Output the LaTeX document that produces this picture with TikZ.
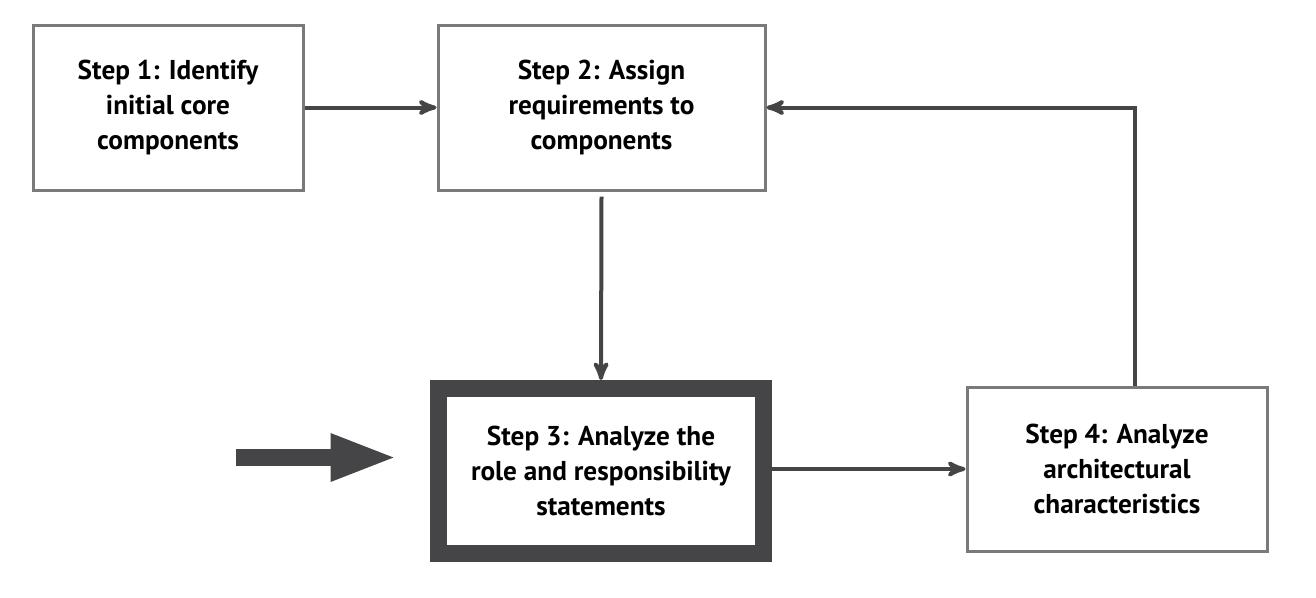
\documentclass[tikz,border=0pt]{standalone}
\usepackage{fontspec}
\setmainfont{PT Sans}
\usetikzlibrary{positioning,calc}
\usetikzlibrary{arrows,arrows.meta}

\definecolor{linegray}{HTML}{454547}
\definecolor{boxgray}{HTML}{7A7A7C}

\tikzset{
  stepbox/.style={draw=boxgray, line width=0.06cm, fill=white, align=center,
    font=\bfseries\fontsize{15.5}{19.8}\selectfont, inner sep=0pt},
  keybox/.style={stepbox, draw=linegray, line width=0.34cm},
  flow/.style={->, draw=linegray, line width=0.08cm},
}

\begin{document}
\begin{tikzpicture}[>=stealth', thick]
\useasboundingbox (0, 0) rectangle (26.32, -11.94);
\node [stepbox, minimum width=5.4cm, minimum height=3.3cm] (s1) at (3.36, -2.15)
  {Step 1: Identify\\initial core\\components};
\node [stepbox, minimum width=6.54cm, minimum height=3.3cm] (s2) at (12.03, -2.15)
  {Step 2: Assign\\requirements to\\components};
\node [keybox, minimum width=6.5cm, minimum height=3.3cm] (s3) at (12.02, -9.42)
  {Step 3: Analyze the\\role and responsibility\\statements};
\node [stepbox, minimum width=6.0cm, minimum height=3.28cm] (s4) at (22.34, -9.38)
  {Step 4: Analyze\\architectural\\characteristics};
% entry arrow
\coordinate (in) at (4.72, -9.15);
\coordinate (inend) at (7.96, -9.15);
\draw [-{Triangle[length=1.35cm, width=0.86cm]}, draw=linegray, fill=linegray, line width=0.34cm] (in) -- (inend);
% connectors
\draw [flow] (s1) -- (s2);
\draw [flow] ([yshift=-0.1cm]s2.south) -- (s3.north);
\draw [flow] (s3.east |- s4.west) -- (s4.west);
\draw [flow] ([xshift=0.36cm]s4.north) |- (s2.east);
\end{tikzpicture}
\end{document}
